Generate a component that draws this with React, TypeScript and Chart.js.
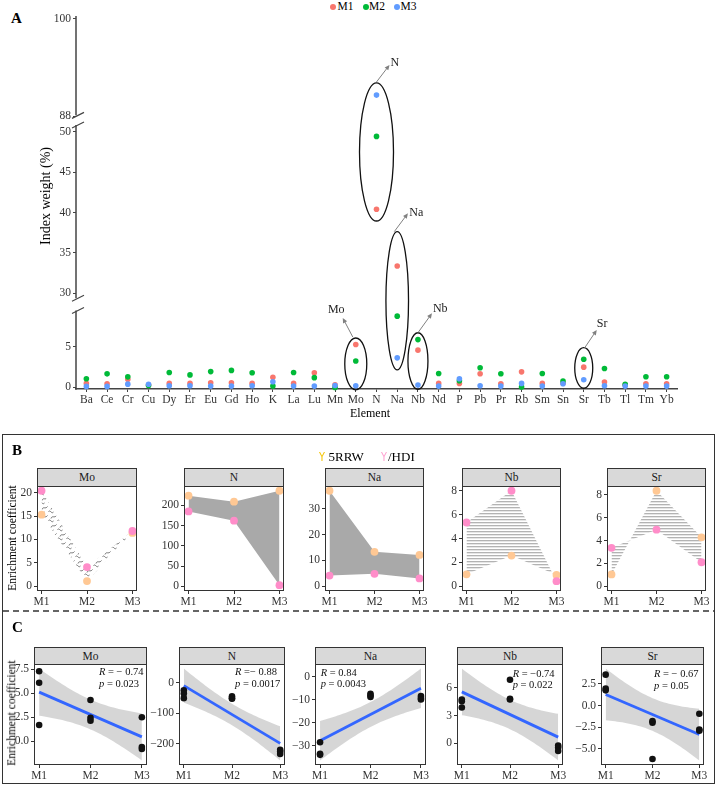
import React, { useEffect, useRef } from "react";
import { Chart, registerables } from "chart.js";

Chart.register(...registerables);

const SERIF = "'Liberation Serif', 'Times New Roman', Times, serif";
const INK = "#333333";

// ---------- Panel A: index weight of each element ----------
const elements = ["Ba", "Ce", "Cr", "Cu", "Dy", "Er", "Eu", "Gd", "Ho", "K", "La", "Lu", "Mn", "Mo", "N", "Na", "Nb", "Nd", "P", "Pb", "Pr", "Rb", "Sm", "Sn", "Sr", "Tb", "Tl", "Tm", "Yb"];
const weightM1 = [0.49, 0.45, 1.0, 0.3, 0.49, 0.49, 0.57, 0.57, 0.49, 1.26, 0.49, 1.8, 0.33, 5.3, 40.4, 33.4, 4.6, 0.49, 0.49, 1.68, 0.45, 1.92, 0.49, 0.5, 2.5, 0.65, 0.3, 0.45, 0.45];
const weightM2 = [1.06, 1.67, 1.3, 0.22, 1.83, 1.54, 1.95, 2.1, 1.8, 0.16, 1.83, 1.2, 0.0, 3.25, 49.4, 8.8, 5.9, 1.72, 0.82, 2.42, 1.68, 0.04, 1.72, 0.78, 3.48, 2.34, 0.37, 1.31, 1.31];
const weightM3 = [0.12, 0.12, 0.4, 0.38, 0.2, 0.2, 0.16, 0.16, 0.2, 0.69, 0.16, 0.16, 0.24, 0.2, 90.6, 3.65, 0.28, 0.16, 1.06, 0.2, 0.16, 0.49, 0.16, 0.45, 0.94, 0.2, 0.16, 0.16, 0.16];
const groupNames = ["M1", "M2", "M3"];
const groupColors = ["#F8766D", "#00BA38", "#619CFF"];
const weightTicks = [0, 5, 30, 35, 40, 45, 50, 88, 100];

// visible pieces of the broken y axis (bottom to top) and how far each is pulled down
const axisPieces = [
  { from: -1, to: 9.5, shift: 0 },
  { from: 29.4, to: 50.8, shift: 18.4 },
  { from: 88.1, to: 101, shift: 54.5 },
];
const toAxis = (v: number) => v - axisPieces[v >= 70 ? 2 : v >= 20 ? 1 : 0].shift;

// circled elements with their call-out arrows
const highlights = [
  { el: "Mo", lo: -0.3, hi: 6.1, rx: 11, from: [-3, -1], tip: [-13, -20], text: [-19.5, -28], align: "center" },
  { el: "N", lo: 38.95, hi: 92.1, rx: 17, from: [0, -1], tip: [13, -18], text: [14, -20], align: "left" },
  { el: "Na", lo: 2.15, hi: 37.63, rx: 11.3, from: [-3, 0], tip: [10.7, -18.4], text: [12, -19], align: "left" },
  { el: "Nb", lo: -0.24, hi: 6.75, rx: 10, from: [0, 0], tip: [14, -19.4], text: [15, -23.7], align: "left" },
  { el: "Sr", lo: -0.11, hi: 4.9, rx: 9, from: [1, 0], tip: [13, -17.7], text: [13, -23.7], align: "left" },
];

// ---------- Panel B: enrichment coefficient by phase ----------
const phases = ["M1", "M2", "M3"];
const rrwMo = [15.3, 1.1, 11.4];
const hdiMo = [20.4, 4.1, 11.8];
const rrwN = [224, 209, 236];
const hdiN = [185, 162, 2.5];
const rrwNa = [36.9, 13.3, 12.1];
const hdiNa = [4.1, 4.8, 3.0];
const rrwNb = [1.0, 2.57, 0.95];
const hdiNb = [5.34, 8.0, 0.42];
const rrwSr = [1.03, 8.36, 4.28];
const hdiSr = [3.36, 4.95, 2.1];

const panelB = [
  { name: "Mo", rrw: rrwMo, hdi: hdiMo, ticks: [0, 5, 10, 15, 20], fill: "squiggle" },
  { name: "N", rrw: rrwN, hdi: hdiN, ticks: [0, 50, 100, 150, 200], fill: "solid" },
  { name: "Na", rrw: rrwNa, hdi: hdiNa, ticks: [0, 10, 20, 30], fill: "solid" },
  { name: "Nb", rrw: rrwNb, hdi: hdiNb, ticks: [0, 2, 4, 6, 8], fill: "hatch" },
  { name: "Sr", rrw: rrwSr, hdi: hdiSr, ticks: [0, 2, 4, 6, 8], fill: "hatch" },
];

// ---------- Panel C: replicate coefficients and linear trend ----------
const replicatePhase = [1, 1, 1, 2, 2, 2, 3, 3, 3];
const coefMo = [7.3, 6.1, 1.7, 4.3, 2.45, 2.15, 2.5, -0.6, -0.8];
const coefN = [-24, -35, -50, -44, -50, -52, -219, -225, -233];
const coefNa = [-28.4, -33.4, -33.9, -7.4, -8.1, -8.8, -8.4, -9.2, -9.9];
const coefNb = [4.75, 4.56, 3.88, 6.9, 4.82, 4.75, -0.25, -0.46, -0.83];
const coefSr = [3.55, 1.94, 1.74, -1.97, -6.16, -1.8, -0.95, -2.76, -2.9];
const corrR = ["= − 0.74", "=− 0.88", "= 0.84", "= −0.74", "= − 0.67"];
const corrP = ["= 0.023", "= 0.0017", "= 0.0043", "= 0.022", "= 0.05"];

const panelC = [
  { name: "Mo", values: coefMo, ticks: [0, 2.5, 5, 7.5], digits: 1 },
  { name: "N", values: coefN, ticks: [-200, -100, 0], digits: 0 },
  { name: "Na", values: coefNa, ticks: [-30, -20, -10, 0], digits: 0 },
  { name: "Nb", values: coefNb, ticks: [0, 3, 6], digits: 0 },
  { name: "Sr", values: coefSr, ticks: [-5, -2.5, 0, 2.5], digits: 1 },
];

// ---------- layout ----------
const colsB = [
  { left: 37, width: 100 },
  { left: 184, width: 100 },
  { left: 325, width: 99 },
  { left: 462, width: 99 },
  { left: 607, width: 99 },
];
const rowB = { stripTop: 468, top: 486, height: 105 };
const colsC = [
  { left: 34, width: 113 },
  { left: 179, width: 106 },
  { left: 315, width: 111 },
  { left: 457, width: 106 },
  { left: 601, width: 103 },
];
const rowC = { stripTop: 647, top: 664, height: 101 };
const statOffsets = [[65, 2], [56, 2], [5.7, 2.5], [55.7, 3.5], [53, 4]];

const PEACH = "#FFC894";
const PINK = "#FF8DC9";
const YW = 34;
const XH = 22;
const PT = 12;
const PR = 12;

type Box = { left: number; top: number; width: number; height: number };

function ChartCanvas({ box, make }: { box: Box; make: (c: HTMLCanvasElement) => any }) {
  const ref = useRef<HTMLCanvasElement | null>(null);
  useEffect(() => {
    const canvas = ref.current as HTMLCanvasElement;
    const chart = new Chart(canvas, make(canvas));
    return () => chart.destroy();
  }, []);
  return (
    <canvas
      ref={ref}
      width={box.width}
      height={box.height}
      style={{ position: "absolute", left: box.left, top: box.top, width: box.width, height: box.height }}
    />
  );
}

const baseOptions = (padding: any) => ({
  responsive: false,
  maintainAspectRatio: false,
  animation: false,
  devicePixelRatio: 1,
  events: [],
  layout: { padding },
  plugins: { legend: { display: false }, tooltip: { enabled: false } },
});

const minusFmt = (v: number, digits: number) => (v < 0 ? "\u2212" : "") + Math.abs(v).toFixed(digits);

// ---------- Panel A chart ----------
const brokenAxisPlugin = {
  id: "brokenAxis",
  afterDraw(chart: any) {
    const { ctx, chartArea: a, scales } = chart;
    const xs = scales.x;
    const ys = scales.y;
    const ax = a.left;
    ctx.save();
    ctx.strokeStyle = "#444";
    ctx.lineWidth = 1.5;
    const ends: number[][] = [];
    axisPieces.forEach((p) => {
      const yb = Math.min(a.bottom + 0.75, ys.getPixelForValue(p.from - p.shift));
      const yt = Math.max(a.top, ys.getPixelForValue(p.to - p.shift));
      ctx.beginPath();
      ctx.moveTo(ax, yb);
      ctx.lineTo(ax, yt);
      ctx.stroke();
      ends.push([yb, yt]);
    });
    ctx.lineWidth = 1.2;
    for (let i = 0; i < ends.length - 1; i++) {
      for (const yEdge of [ends[i][1], ends[i + 1][0]]) {
        ctx.beginPath();
        ctx.moveTo(ax - 4, yEdge + 3);
        ctx.lineTo(ax + 8, yEdge - 3);
        ctx.stroke();
      }
    }

    highlights.forEach((h) => {
      const cx = xs.getPixelForValue(elements.indexOf(h.el));
      const yTop = ys.getPixelForValue(toAxis(h.hi));
      const yBot = ys.getPixelForValue(toAxis(h.lo));
      ctx.strokeStyle = "#111";
      ctx.lineWidth = 1.3;
      ctx.beginPath();
      ctx.ellipse(cx, (yTop + yBot) / 2, h.rx, (yBot - yTop) / 2, 0, 0, Math.PI * 2);
      ctx.stroke();

      const x0 = cx + h.from[0];
      const y0 = yTop + h.from[1];
      const x1 = cx + h.tip[0];
      const y1 = yTop + h.tip[1];
      const ang = Math.atan2(y1 - y0, x1 - x0);
      ctx.strokeStyle = "#808080";
      ctx.fillStyle = "#808080";
      ctx.lineWidth = 1;
      ctx.beginPath();
      ctx.moveTo(x0, y0);
      ctx.lineTo(x1 - 3 * Math.cos(ang), y1 - 3 * Math.sin(ang));
      ctx.stroke();
      const hl = 5;
      const hw = 2.3;
      ctx.beginPath();
      ctx.moveTo(x1, y1);
      ctx.lineTo(x1 - hl * Math.cos(ang) + hw * Math.sin(ang), y1 - hl * Math.sin(ang) - hw * Math.cos(ang));
      ctx.lineTo(x1 - hl * Math.cos(ang) - hw * Math.sin(ang), y1 - hl * Math.sin(ang) + hw * Math.cos(ang));
      ctx.closePath();
      ctx.fill();

      ctx.fillStyle = "#222";
      ctx.font = `12px ${SERIF}`;
      ctx.textAlign = h.align;
      ctx.textBaseline = "middle";
      ctx.fillText(h.el, cx + h.text[0], yTop + h.text[1]);
    });
    ctx.restore();
  },
};

function makePanelA() {
  const series = [weightM1, weightM2, weightM3];
  return {
    type: "line",
    data: {
      labels: elements,
      datasets: series.map((vals, i) => ({
        label: groupNames[i],
        data: vals.map(toAxis),
        showLine: false,
        pointRadius: 2.8,
        pointHoverRadius: 0,
        pointBackgroundColor: groupColors[i],
        pointBorderWidth: 0,
        borderColor: groupColors[i],
        order: 2 - i,
        clip: false,
      })),
    },
    options: {
      ...baseOptions({ top: 16, right: 40, left: 0, bottom: 0 }),
      scales: {
        x: {
          type: "category",
          offset: true,
          grid: { display: true, drawOnChartArea: false, drawTicks: true, tickLength: 3, color: "#444", offset: false },
          border: { display: true, color: "#444", width: 1.5 },
          ticks: { font: { family: SERIF, size: 11.5 }, color: INK, padding: 1, autoSkip: false, maxRotation: 0 },
          afterFit: (s: any) => {
            s.height = 41;
          },
        },
        y: {
          type: "linear",
          min: -0.2,
          max: 45.87,
          bounds: "data",
          afterBuildTicks: (s: any) => {
            s.ticks = weightTicks.map((v) => ({ value: toAxis(v) }));
          },
          ticks: {
            callback: (_v: any, i: number) => String(weightTicks[i]),
            font: { family: SERIF, size: 11.5 },
            color: INK,
            padding: 2,
            autoSkip: false,
          },
          grid: { display: true, drawOnChartArea: false, drawTicks: true, tickLength: 3, color: "#444" },
          border: { display: false },
          afterFit: (s: any) => {
            s.width = 76;
          },
        },
      },
    },
    plugins: [brokenAxisPlugin],
  };
}

// ---------- facet helpers ----------
const framePlugin = {
  id: "facetFrame",
  afterDraw(chart: any) {
    const { ctx, chartArea: a } = chart;
    ctx.save();
    ctx.strokeStyle = INK;
    ctx.lineWidth = 1;
    ctx.strokeRect(a.left + 0.5, a.top + 0.5, a.right - a.left - 1, a.bottom - a.top - 1);
    ctx.restore();
  },
};

function phaseScale() {
  return {
    type: "linear",
    min: 0.9,
    max: 3.1,
    bounds: "data",
    afterBuildTicks: (s: any) => {
      s.ticks = [1, 2, 3].map((v) => ({ value: v }));
    },
    ticks: {
      callback: (v: any) => phases[Math.round(v) - 1],
      font: { family: SERIF, size: 11.5 },
      color: INK,
      padding: 1,
      autoSkip: false,
      maxRotation: 0,
    },
    grid: { display: true, drawOnChartArea: false, drawTicks: true, tickLength: 3, color: INK },
    border: { display: false },
    afterFit: (s: any) => {
      s.height = XH;
    },
  };
}

function valueScale(min: number, max: number, ticks: number[], digits: number) {
  return {
    type: "linear",
    min,
    max,
    bounds: "data",
    afterBuildTicks: (s: any) => {
      s.ticks = ticks.map((v) => ({ value: v }));
    },
    ticks: {
      callback: (v: any) => minusFmt(Number(v), digits),
      font: { family: SERIF, size: 11.5 },
      color: INK,
      padding: 2,
      autoSkip: false,
    },
    grid: { display: true, drawOnChartArea: false, drawTicks: true, tickLength: 3, color: INK },
    border: { display: false },
    afterFit: (s: any) => {
      s.width = YW;
    },
  };
}

function facetCanvasBox(left: number, width: number, top: number, height: number): Box {
  return { left: left - YW, top: top - PT, width: width + YW + PR, height: height + PT + XH };
}

function hatchFill(canvas: HTMLCanvasElement) {
  const tile = document.createElement("canvas");
  tile.width = 6;
  tile.height = 3;
  const g = tile.getContext("2d") as CanvasRenderingContext2D;
  g.fillStyle = "#B3B3B3";
  g.fillRect(0, 0, 6, 1);
  g.fillStyle = "#E6E6E6";
  g.fillRect(0, 1, 6, 1);
  return (canvas.getContext("2d") as CanvasRenderingContext2D).createPattern(tile, "repeat");
}

function squiggleFill(canvas: HTMLCanvasElement) {
  const tile = document.createElement("canvas");
  tile.width = 9;
  tile.height = 9;
  const g = tile.getContext("2d") as CanvasRenderingContext2D;
  g.strokeStyle = "#6F6F6F";
  g.lineWidth = 1;
  g.beginPath();
  g.moveTo(0.5, 1.5);
  g.bezierCurveTo(2.5, -0.5, 3.5, 4.5, 5.5, 2);
  g.stroke();
  g.beginPath();
  g.moveTo(3, 8.5);
  g.bezierCurveTo(4, 5, 6.5, 8.5, 8.5, 5.5);
  g.stroke();
  return (canvas.getContext("2d") as CanvasRenderingContext2D).createPattern(tile, "repeat");
}

const toPoints = (vals: number[]) => vals.map((y, i) => ({ x: i + 1, y }));

const markStyle = (color: string) => ({
  borderWidth: 0,
  borderColor: "rgba(0,0,0,0)",
  pointRadius: 3.9,
  pointHoverRadius: 0,
  pointBackgroundColor: color,
  pointBorderWidth: 0,
  tension: 0,
  clip: false,
});

function makeFacetB(idx: number) {
  return (canvas: HTMLCanvasElement) => {
    const f = panelB[idx];
    const top = Math.max(...f.rrw, ...f.hdi, 0);
    const fillStyle = f.fill === "solid" ? "#A9A9A9" : f.fill === "hatch" ? hatchFill(canvas) : squiggleFill(canvas);
    return {
      type: "line",
      data: {
        datasets: [
          { label: "/HDI", data: toPoints(f.hdi), ...markStyle(PINK), fill: false },
          { label: "5RRW", data: toPoints(f.rrw), ...markStyle(PEACH), fill: "-1", backgroundColor: fillStyle },
        ],
      },
      options: {
        ...baseOptions({ top: PT, right: PR, left: 0, bottom: 0 }),
        scales: { x: phaseScale(), y: valueScale(-0.05 * top, 1.05 * top, f.ticks, 0) },
      },
      plugins: [framePlugin],
    };
  };
}

// two-sided 97.5% Student t quantile (Cornish-Fisher expansion)
function tQuantile975(df: number) {
  const z = 1.959964;
  const z3 = z ** 3, z5 = z ** 5, z7 = z ** 7, z9 = z ** 9;
  return (
    z +
    (z3 + z) / (4 * df) +
    (5 * z5 + 16 * z3 + 3 * z) / (96 * df ** 2) +
    (3 * z7 + 19 * z5 + 17 * z3 - 15 * z) / (384 * df ** 3) +
    (79 * z9 + 776 * z7 + 1482 * z5 - 1920 * z3 - 945 * z) / (92160 * df ** 4)
  );
}

function linearFit(xs: number[], ys: number[]) {
  const n = xs.length;
  const xbar = xs.reduce((s, v) => s + v, 0) / n;
  const ybar = ys.reduce((s, v) => s + v, 0) / n;
  let sxx = 0, sxy = 0;
  xs.forEach((x, i) => {
    sxx += (x - xbar) ** 2;
    sxy += (x - xbar) * (ys[i] - ybar);
  });
  const slope = sxy / sxx;
  const at = (x: number) => ybar + slope * (x - xbar);
  let sse = 0;
  xs.forEach((x, i) => {
    sse += (ys[i] - at(x)) ** 2;
  });
  const s = Math.sqrt(sse / (n - 2));
  const t = tQuantile975(n - 2);
  const half = (x: number) => t * s * Math.sqrt(1 / n + (x - xbar) ** 2 / sxx);
  return { at, half };
}

function makeFacetC(idx: number) {
  return () => {
    const f = panelC[idx];
    const fit = linearFit(replicatePhase, f.values);
    const band: { x: number; lo: number; hi: number }[] = [];
    for (let k = 0; k <= 40; k++) {
      const x = 1 + k * 0.05;
      band.push({ x, lo: fit.at(x) - fit.half(x), hi: fit.at(x) + fit.half(x) });
    }
    const all = [...f.values, ...band.map((b) => b.lo), ...band.map((b) => b.hi)];
    const lo = Math.min(...all);
    const hi = Math.max(...all);
    const pad = 0.05 * (hi - lo);
    return {
      type: "line",
      data: {
        datasets: [
          {
            data: replicatePhase.map((x, i) => ({ x, y: f.values[i] })),
            showLine: false,
            borderColor: "rgba(0,0,0,0)",
            pointRadius: 3.3,
            pointHoverRadius: 0,
            pointBackgroundColor: "#111",
            pointBorderWidth: 0,
            clip: false,
          },
          {
            data: [{ x: 1, y: fit.at(1) }, { x: 3, y: fit.at(3) }],
            borderColor: "#3366FF",
            borderWidth: 2.8,
            pointRadius: 0,
            fill: false,
          },
          {
            data: band.map((b) => ({ x: b.x, y: b.hi })),
            borderColor: "rgba(0,0,0,0)",
            borderWidth: 0,
            pointRadius: 0,
            fill: "+1",
            backgroundColor: "rgba(153,153,153,0.4)",
          },
          {
            data: band.map((b) => ({ x: b.x, y: b.lo })),
            borderColor: "rgba(0,0,0,0)",
            borderWidth: 0,
            pointRadius: 0,
            fill: false,
          },
        ],
      },
      options: {
        ...baseOptions({ top: PT, right: PR, left: 0, bottom: 0 }),
        scales: { x: phaseScale(), y: valueScale(lo - pad, hi + pad, f.ticks, f.digits) },
      },
      plugins: [framePlugin],
    };
  };
}

// ---------- text helpers ----------
function Txt({ x, y, size, anchor = "left", bold, color, children }: any) {
  const tx = anchor === "center" ? "-50%" : anchor === "right" ? "-100%" : "0";
  return (
    <div
      style={{
        position: "absolute",
        left: x,
        top: y,
        transform: `translate(${tx}, -50%)`,
        fontSize: size,
        lineHeight: 1,
        whiteSpace: "nowrap",
        fontWeight: bold ? "bold" : "normal",
        color: color || "#000",
      }}
    >
      {children}
    </div>
  );
}

function VTxt({ x, y, size, children }: any) {
  return (
    <div
      style={{
        position: "absolute",
        left: x,
        top: y,
        transform: "translate(-50%, -50%) rotate(-90deg)",
        fontSize: size,
        lineHeight: 1,
        whiteSpace: "nowrap",
        color: "#000",
      }}
    >
      {children}
    </div>
  );
}

function Strip({ left, top, width, height, label }: any) {
  return (
    <div
      style={{
        position: "absolute",
        left,
        top,
        width,
        height,
        boxSizing: "border-box",
        background: "#D9D9D9",
        border: `1px solid ${INK}`,
        borderBottom: "none",
        fontSize: 11.5,
        lineHeight: `${height - 1}px`,
        textAlign: "center",
        color: "#1a1a1a",
      }}
    >
      {label}
    </div>
  );
}

export default function App() {
  const legendA = [
    { dot: 333.3, text: 337.5 },
    { dot: 365.8, text: 369 },
    { dot: 397.3, text: 400.5 },
  ];
  return (
    <div
      style={{
        position: "absolute",
        left: 0,
        top: 0,
        width: 717,
        height: 786,
        overflow: "hidden",
        background: "#fff",
        fontFamily: SERIF,
      }}
    >
      {/* Panel A */}
      <Txt x={11} y={17.5} size={15} bold>A</Txt>
      {legendA.map((l, i) => (
        <React.Fragment key={groupNames[i]}>
          <div
            style={{
              position: "absolute",
              left: l.dot - 3,
              top: 3.5,
              width: 6,
              height: 6,
              borderRadius: 3,
              background: groupColors[i],
            }}
          />
          <Txt x={l.text} y={7} size={11.5}>{groupNames[i]}</Txt>
        </React.Fragment>
      ))}
      <ChartCanvas box={{ left: 0, top: 0, width: 717, height: 430 }} make={makePanelA} />
      <VTxt x={46} y={196} size={14}>Index weight (%)</VTxt>
      <Txt x={370} y={412.5} size={12} anchor="center">Element</Txt>

      {/* Panels B and C frame */}
      <div
        style={{
          position: "absolute",
          left: 2,
          top: 434,
          width: 713,
          height: 350,
          boxSizing: "border-box",
          border: `1.5px solid ${INK}`,
        }}
      />
      <svg style={{ position: "absolute", left: 0, top: 0 }} width={717} height={786}>
        <line x1={3} y1={611} x2={714} y2={611} stroke={INK} strokeWidth={1.4} strokeDasharray="6 4" />
      </svg>

      {/* Panel B */}
      <Txt x={12} y={449.5} size={15} bold>B</Txt>
      <div
        style={{
          position: "absolute",
          left: 319,
          top: 456,
          transform: "translateY(-50%) scaleX(0.75)",
          transformOrigin: "left center",
          fontFamily: "'DejaVu Sans', sans-serif",
          fontSize: 13,
          lineHeight: 1,
          color: "#F5C400",
        }}
      >
        Y
      </div>
      <Txt x={328.5} y={456} size={13}>5RRW</Txt>
      <div
        style={{
          position: "absolute",
          left: 380.5,
          top: 456,
          transform: "translateY(-50%) scaleX(0.75)",
          transformOrigin: "left center",
          fontFamily: "'DejaVu Sans', sans-serif",
          fontSize: 13,
          lineHeight: 1,
          color: "#FF9FD0",
        }}
      >
        Y
      </div>
      <Txt x={388} y={456} size={13}>/HDI</Txt>
      {panelB.map((f, i) => (
        <React.Fragment key={"b" + f.name}>
          <Strip left={colsB[i].left} top={rowB.stripTop} width={colsB[i].width} height={rowB.top - rowB.stripTop} label={f.name} />
          <ChartCanvas box={facetCanvasBox(colsB[i].left, colsB[i].width, rowB.top, rowB.height)} make={makeFacetB(i)} />
        </React.Fragment>
      ))}
      <VTxt x={13} y={538} size={11.5}>Enrichment coefficient</VTxt>

      {/* Panel C */}
      <Txt x={12} y={627} size={15} bold>C</Txt>
      {panelC.map((f, i) => (
        <React.Fragment key={"c" + f.name}>
          <Strip left={colsC[i].left} top={rowC.stripTop} width={colsC[i].width} height={rowC.top - rowC.stripTop} label={f.name} />
          <ChartCanvas box={facetCanvasBox(colsC[i].left, colsC[i].width, rowC.top, rowC.height)} make={makeFacetC(i)} />
          <div
            style={{
              position: "absolute",
              left: colsC[i].left + statOffsets[i][0],
              top: rowC.top + statOffsets[i][1],
              fontSize: 10.5,
              lineHeight: "11.5px",
              whiteSpace: "pre",
              color: "#111",
            }}
          >
            <div>
              <i>R</i> {corrR[i]}
            </div>
            <div>
              <i>p</i> {corrP[i]}
            </div>
          </div>
        </React.Fragment>
      ))}
      <VTxt x={12} y={713} size={11.5}>Enrichment coefficient</VTxt>
    </div>
  );
}
